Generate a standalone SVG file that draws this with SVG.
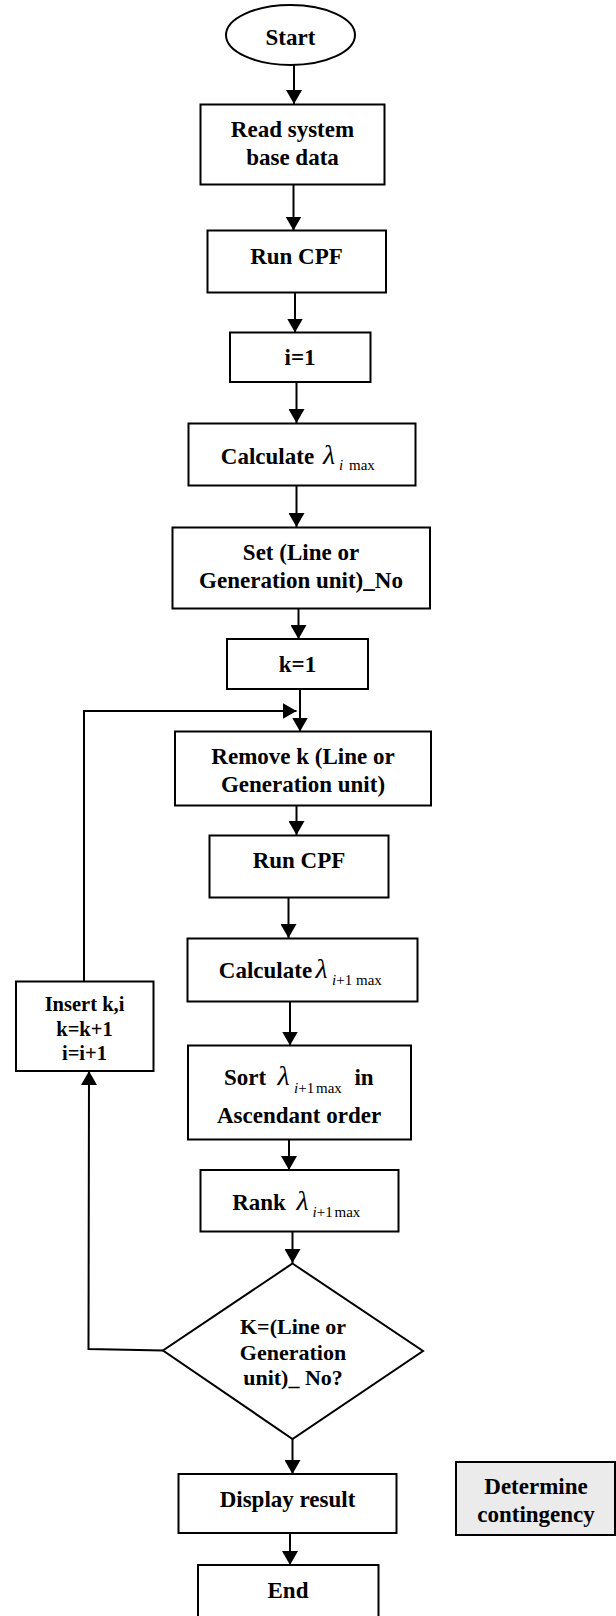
<svg xmlns="http://www.w3.org/2000/svg" width="616" height="1616" viewBox="0 0 616 1616">
<style>
.s{fill:#fff;stroke:#000;stroke-width:2}
.g{fill:#ebebeb;stroke:#000;stroke-width:2}
.t{font-family:"Liberation Serif","Times New Roman",serif;font-weight:bold;font-size:23px;fill:#000;text-anchor:middle}
.ts{font-family:"Liberation Serif","Times New Roman",serif;font-weight:bold;font-size:20.5px;fill:#000;text-anchor:middle}
.td{font-family:"Liberation Serif","Times New Roman",serif;font-weight:bold;font-size:22px;fill:#000;text-anchor:middle}
.l{font-family:"Liberation Serif","Times New Roman",serif;font-style:italic;font-size:28px;fill:#000}
.sub{font-family:"Liberation Serif","Times New Roman",serif;font-size:15px;fill:#000}
.si{font-style:italic}
.c{fill:none;stroke:#000;stroke-width:2}
</style>
<defs>
<marker id="ah" viewBox="0 0 14 16" markerWidth="14" markerHeight="16" refX="14" refY="8" orient="auto" markerUnits="userSpaceOnUse">
<path d="M0,0 L14,8 L0,16 Z" fill="#000"/>
</marker>
</defs>
<rect width="616" height="1616" fill="#fff"/>
<g id="connectors">
<line class="c" x1="294" y1="65" x2="294" y2="104" marker-end="url(#ah)"/>
<line class="c" x1="293.5" y1="184" x2="293.5" y2="230.5" marker-end="url(#ah)"/>
<line class="c" x1="295" y1="292.5" x2="295" y2="332.5" marker-end="url(#ah)"/>
<line class="c" x1="296.5" y1="382" x2="296.5" y2="423" marker-end="url(#ah)"/>
<line class="c" x1="296.5" y1="485.5" x2="296.5" y2="527" marker-end="url(#ah)"/>
<line class="c" x1="298.5" y1="608" x2="298.5" y2="639" marker-end="url(#ah)"/>
<line class="c" x1="300" y1="689" x2="300" y2="731.5" marker-end="url(#ah)"/>
<polyline class="c" points="84,981.5 84,711 296.5,711" marker-end="url(#ah)"/>
<line class="c" x1="296.5" y1="805" x2="296.5" y2="835" marker-end="url(#ah)"/>
<line class="c" x1="288.5" y1="897" x2="288.5" y2="938" marker-end="url(#ah)"/>
<line class="c" x1="290" y1="1001.5" x2="290" y2="1045.5" marker-end="url(#ah)"/>
<line class="c" x1="289" y1="1139" x2="289" y2="1170" marker-end="url(#ah)"/>
<line class="c" x1="292.5" y1="1231.5" x2="292.5" y2="1263" marker-end="url(#ah)"/>
<polyline class="c" points="163,1350.5 88.5,1349 89,1071" marker-end="url(#ah)"/>
<line class="c" x1="292.5" y1="1439" x2="292.5" y2="1474" marker-end="url(#ah)"/>
<line class="c" x1="290" y1="1533" x2="290" y2="1565" marker-end="url(#ah)"/>
</g>
<g id="start">
<ellipse class="s" cx="290.5" cy="35" rx="64.5" ry="30"/>
<text class="t" x="290.5" y="45">Start</text>
</g>
<g id="read">
<rect class="s" x="200.5" y="104.5" width="184" height="80"/>
<text class="t" x="292.5" y="136.5">Read system</text>
<text class="t" x="292.5" y="165">base data</text>
</g>
<g id="runcpf1">
<rect class="s" x="207.5" y="230.5" width="178.5" height="62"/>
<text class="t" x="296.5" y="264">Run CPF</text>
</g>
<g id="i1">
<rect class="s" x="230" y="332.5" width="140.5" height="49.5"/>
<text class="t" x="300" y="365">i=1</text>
</g>
<g id="calc1">
<rect class="s" x="188.5" y="423.5" width="227" height="62"/>
<text class="t" x="267.5" y="464">Calculate</text>
<text class="l" x="323" y="464">λ</text>
<text class="sub" x="339" y="470"><tspan class="si">i</tspan><tspan x="349">max</tspan></text>
</g>
<g id="setno">
<rect class="s" x="172.5" y="527.5" width="257.5" height="81"/>
<text class="t" x="301" y="559.5">Set (Line or</text>
<text class="t" x="301" y="587.5">Generation unit)_No</text>
</g>
<g id="k1">
<rect class="s" x="227" y="639" width="141" height="50"/>
<text class="t" x="297.5" y="671.5">k=1</text>
</g>
<g id="remove">
<rect class="s" x="175" y="731.5" width="256" height="74"/>
<text class="t" x="303" y="763.5">Remove k (Line or</text>
<text class="t" x="303" y="791.5">Generation unit)</text>
</g>
<g id="runcpf2">
<rect class="s" x="209.5" y="835.5" width="179" height="62"/>
<text class="t" x="299" y="867.5">Run CPF</text>
</g>
<g id="calc2">
<rect class="s" x="187.5" y="938.5" width="230" height="63"/>
<text class="t" x="265.5" y="977.5">Calculate</text>
<text class="l" x="315.5" y="977.5">λ</text>
<text class="sub" x="332" y="985"><tspan class="si">i</tspan><tspan>+1</tspan><tspan x="356">max</tspan></text>
</g>
<g id="sort">
<rect class="s" x="188" y="1045.5" width="223" height="94"/>
<text class="t" x="245" y="1085">Sort</text>
<text class="l" x="277.5" y="1085">λ</text>
<text class="sub" x="294" y="1092.5"><tspan class="si">i</tspan><tspan>+1</tspan><tspan x="316">max</tspan></text>
<text class="t" x="364" y="1085">in</text>
<text class="t" x="299" y="1122.5">Ascendant order</text>
</g>
<g id="rank">
<rect class="s" x="200.5" y="1170" width="198" height="61.5"/>
<text class="t" x="259" y="1210">Rank</text>
<text class="l" x="296.5" y="1210">λ</text>
<text class="sub" x="312.5" y="1216.5"><tspan class="si">i</tspan><tspan>+1</tspan><tspan x="334.5">max</tspan></text>
</g>
<g id="decision">
<polygon class="s" points="292.5,1263.5 423,1351 292.5,1439 163,1350.5"/>
<text class="td" x="293" y="1334">K=(Line or</text>
<text class="td" x="293" y="1360">Generation</text>
<text class="td" x="293" y="1385">unit)_ No?</text>
</g>
<g id="insert">
<rect class="s" x="16" y="981.5" width="137.5" height="89.5"/>
<text class="ts" x="84.5" y="1011">Insert k,i</text>
<text class="ts" x="84.5" y="1036">k=k+1</text>
<text class="ts" x="84.5" y="1060">i=i+1</text>
</g>
<g id="display">
<rect class="s" x="178.5" y="1474" width="218" height="59"/>
<text class="t" x="287.5" y="1506.5">Display result</text>
</g>
<g id="end">
<rect class="s" x="198" y="1565" width="180.5" height="60"/>
<text class="t" x="288" y="1598">End</text>
</g>
<g id="contingency">
<rect class="g" x="456" y="1462" width="159" height="73"/>
<text class="t" x="536" y="1493.5">Determine</text>
<text class="t" x="536" y="1521.5">contingency</text>
</g>
</svg>
